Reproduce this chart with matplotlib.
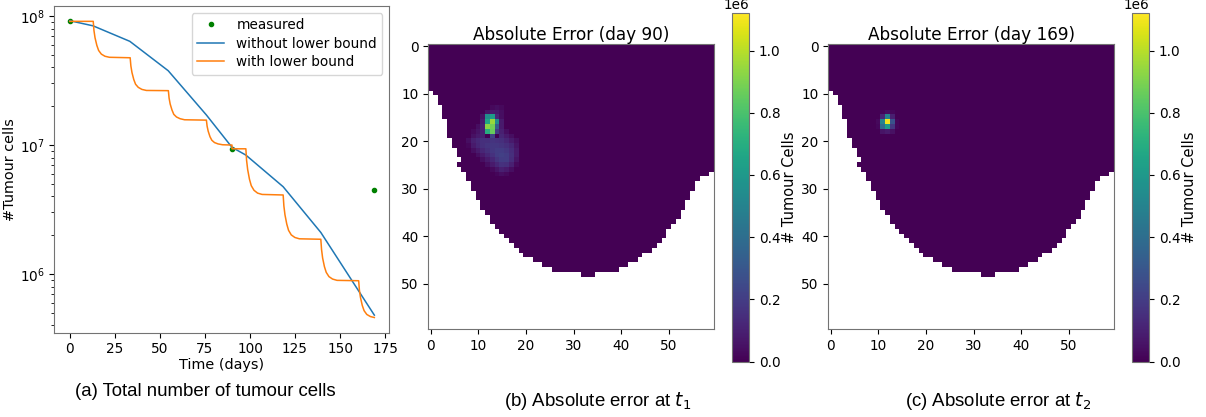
import numpy as np
import matplotlib
matplotlib.use("Agg")
import matplotlib.pyplot as plt

# ---------------- data: total tumour cells ----------------
measured_days = [0, 90, 169]
measured_cells = [9.1e7, 9.3e6, 4.48e6]

blue_days = [0, 12.9, 33.3, 54.6, 75.8, 90, 97.7, 118.4, 139.3, 160.0, 169]
blue_cells = [9.2e7, 8.4e7, 6.37e7, 3.77e7, 1.71e7, 9.6e6, 8.36e6, 4.75e6, 2.1e6, 7.5e5, 4.8e5]

orange_days = [0, 13.0, 13.4, 14.0, 15.0, 16.0, 17.5, 19.5, 22.0,
               33.5, 33.9, 34.5, 35.5, 36.5, 38.0, 40.0, 42.5,
               54.7, 55.1, 55.7, 56.7, 57.7, 59.2, 61.2, 63.7,
               75.8, 76.2, 76.8, 77.8, 78.8, 80.3, 82.3, 84.8,
               90.0, 90.0,
               97.7, 98.1, 98.7, 99.7, 100.7, 102.2, 104.2, 106.7,
               118.4, 118.8, 119.4, 120.4, 121.4, 122.9, 124.9, 127.4,
               139.3, 139.7, 140.3, 141.3, 142.3, 143.8, 145.8, 148.3,
               160.3, 160.7, 161.3, 162.3, 163.3, 164.8, 166.8, 169.0]
orange_cells = [9.1e7, 9.1e7, 7.74e7, 6.79e7, 5.93e7, 5.41e7, 5.07e7, 4.88e7, 4.79e7,
                4.75e7, 4.10e7, 3.65e7, 3.22e7, 2.96e7, 2.80e7, 2.70e7, 2.65e7,
                2.64e7, 2.31e7, 2.08e7, 1.87e7, 1.73e7, 1.65e7, 1.60e7, 1.57e7,
                1.56e7, 1.40e7, 1.28e7, 1.16e7, 1.09e7, 1.045e7, 1.02e7, 1.005e7,
                1.0e7, 9.35e6,
                9.35e6, 7.62e6, 6.46e6, 5.43e6, 4.84e6, 4.46e6, 4.24e6, 4.14e6,
                4.1e6, 3.37e6, 2.88e6, 2.44e6, 2.18e6, 2.01e6, 1.92e6, 1.875e6,
                1.86e6, 1.55e6, 1.33e6, 1.14e6, 1.03e6, 9.55e5, 9.14e5, 8.93e5,
                8.87e5, 7.52e5, 6.58e5, 5.71e5, 5.20e5, 4.86e5, 4.68e5, 4.6e5]

# ---------------- data: error maps ----------------
grid_size = 60
# last valid (non-masked) row for each column 0..59
last_valid_row = [9, 10, 12, 15, 19, 21, 25, 26, 28, 30, 32, 34, 35, 37, 38, 39, 40, 41, 42, 43,
                  44, 44, 45, 45, 46, 46, 47, 47, 47, 47, 47, 47, 48, 48, 48, 47, 47, 47, 47, 47,
                  46, 46, 45, 45, 44, 43, 43, 42, 41, 40, 38, 37, 36, 34, 32, 30, 28, 27, 27, 26]
mask_holes = [(24, 6)]  # (row, col) masked cells inside the domain

# error near the tumour, in units of 1e6 cells
err90_origin = (13, 8)  # (row, col) of patch top-left
err90_patch = [
    [0, 0, 0, 0, 0, 0.03, 0.04, 0.03, 0, 0, 0],
    [0, 0, 0, 0, 0.06, 0.08, 0.07, 0.04, 0, 0, 0],
    [0, 0, 0, 0.05, 0.55, 0.62, 0.12, 0.04, 0, 0, 0],
    [0, 0, 0, 0.08, 0.66, 0.95, 0.55, 0.08, 0, 0, 0],
    [0, 0, 0.04, 0.10, 0.92, 0.88, 0.33, 0.08, 0, 0, 0],
    [0, 0.03, 0.06, 0.10, 0.70, 0.86, 0.20, 0.10, 0.04, 0, 0],
    [0, 0.05, 0.08, 0.10, 0.0, 0.22, 0.0, 0.12, 0.08, 0.04, 0],
    [0.04, 0.10, 0.13, 0.15, 0.15, 0.17, 0.16, 0.15, 0.12, 0.08, 0.04],
    [0.02, 0.08, 0.12, 0.15, 0.17, 0.18, 0.18, 0.17, 0.15, 0.12, 0.06],
    [0, 0.04, 0.08, 0.12, 0.15, 0.18, 0.20, 0.20, 0.18, 0.14, 0.08],
    [0, 0, 0.04, 0.08, 0.12, 0.16, 0.20, 0.21, 0.20, 0.15, 0.08],
    [0, 0, 0, 0.04, 0.08, 0.12, 0.17, 0.20, 0.20, 0.14, 0.06],
    [0, 0, 0, 0, 0.04, 0.08, 0.12, 0.16, 0.15, 0.10, 0.03],
    [0, 0, 0, 0, 0, 0.03, 0.06, 0.10, 0.08, 0.04, 0],
    [0, 0, 0, 0, 0, 0, 0.02, 0.04, 0.03, 0, 0],
]
err169_origin = (14, 10)
err169_patch = [
    [0, 0.02, 0.04, 0.02, 0],
    [0, 0.12, 0.50, 0.10, 0],
    [0.03, 0.50, 1.10, 0.28, 0.02],
    [0.02, 0.40, 0.62, 0.18, 0.02],
    [0, 0.06, 0.08, 0.05, 0],
]
err_vmax = 1.12e6
cbar_ticks = [0.0, 0.2, 0.4, 0.6, 0.8, 1.0]

titles = ["Absolute Error (day 90)", "Absolute Error (day 169)"]
captions = ["(a) Total number of tumour cells",
            r"(b) Absolute error at $t_1$",
            r"(c) Absolute error at $t_2$"]


def build_map(origin, patch):
    m = np.zeros((grid_size, grid_size))
    p = np.array(patch) * 1e6
    r0, c0 = origin
    m[r0:r0 + p.shape[0], c0:c0 + p.shape[1]] = p
    rows = np.arange(grid_size)[:, None]
    m = np.where(rows > np.array(last_valid_row)[None, :], np.nan, m)
    for r, c in mask_holes:
        m[r, c] = np.nan
    return m


W, H = 1206, 417
fig = plt.figure(figsize=(W / 100, H / 100), dpi=100)
spine_col = "0.45"
fs = 9.8

def px_axes(x0, y0, x1, y1):
    return fig.add_axes([x0 / W, 1 - y1 / H, (x1 - x0) / W, (y1 - y0) / H])

# ---------- left plot ----------
ax = px_axes(54.3, 6, 389.3, 332.7)
ax.plot(measured_days, measured_cells, ".", color="green", markersize=6, label="measured")
ax.plot(blue_days, blue_cells, "-", color="#1f77b4", lw=1.1, label="without lower bound")
ax.plot(orange_days, orange_cells, "-", color="#ff7f0e", lw=1.1, label="with lower bound")
ax.set_yscale("log")
ax.set_xlim(-8.6, 177.3)
ax.set_ylim(10 ** 5.545, 10 ** 8.078)
ax.set_xticks([0, 25, 50, 75, 100, 125, 150, 175])
ax.set_xlabel("Time (days)", fontsize=fs + 0.6, labelpad=1)
ax.set_ylabel("#Tumour cells", fontsize=fs + 0.6)
ax.yaxis.set_label_coords(-0.11, 0.5)
ax.tick_params(labelsize=fs)
ax.legend(loc="upper right", fontsize=fs, handlelength=2.0, borderpad=0.4,
          labelspacing=0.33, handletextpad=0.9)
for s in ax.spines.values():
    s.set_color(spine_col)

# ---------- error maps ----------
maps = [build_map(err90_origin, err90_patch), build_map(err169_origin, err169_patch)]
img_x = [428.3, 828.3]
cb_x = [732.3, 1132.3]
for i in range(2):
    axi = px_axes(img_x[i], 43.7, img_x[i] + 285.7, 329.0)
    im = axi.imshow(maps[i], cmap="viridis", vmin=0, vmax=err_vmax,
                    interpolation="nearest", aspect="auto")
    axi.set_title(titles[i], fontsize=12.2, pad=2.5)
    axi.set_xticks([0, 10, 20, 30, 40, 50])
    axi.set_yticks([0, 10, 20, 30, 40, 50])
    axi.tick_params(labelsize=fs)
    for s in axi.spines.values():
        s.set_color(spine_col)
    cax = px_axes(cb_x[i], 13.3, cb_x[i] + 17, 361.5)
    cb = fig.colorbar(im, cax=cax)
    cb.set_ticks([t * 1e6 for t in cbar_ticks])
    cb.ax.tick_params(labelsize=fs)
    cb.ax.yaxis.get_offset_text().set_fontsize(fs)
    cb.set_label("# Tumour Cells", fontsize=10.5, labelpad=1)
    cb.outline.set_edgecolor(spine_col)

# ---------- captions ----------
cap_pos = [(205, 392), (598, 401), (998, 401)]
for (x, y), t in zip(cap_pos, captions):
    fig.text(x / W, 1 - y / H, t, ha="center", va="center", fontsize=13.4,
             family="Liberation Sans")

fig.savefig("out.png", dpi=100)
